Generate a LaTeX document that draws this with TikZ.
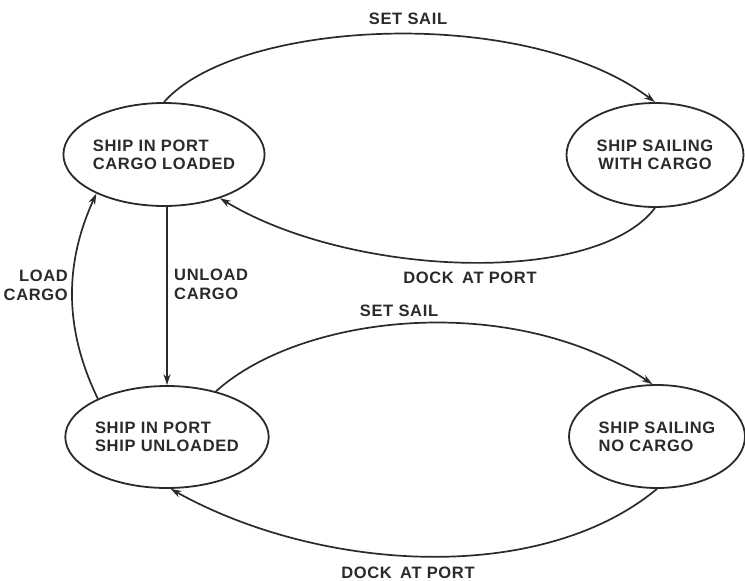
\documentclass[tikz,border=0pt]{standalone}
\usepackage{fontspec}
\newfontfamily\shipfont[LetterSpace=4]{Liberation Sans}
\usetikzlibrary{shapes.geometric,arrows.meta}
\definecolor{inkc}{HTML}{2A2A2A}

\begin{document}
\begin{tikzpicture}[x=1pt, y=-1pt, inkc,
    state/.style={draw, ellipse, line width=1.8pt, inner sep=0pt, align=left,
      font=\shipfont\bfseries\fontsize{16.5}{18}\selectfont},
    trans/.style={line width=1.7pt, -{Stealth[length=11pt,width=7pt]}},
    lbl/.style={inner sep=0pt, font=\shipfont\bfseries\fontsize{16.5}{19}\selectfont}]
    \useasboundingbox (0,0) rectangle (745,581);
    % states
    \node[state, minimum width=178pt, minimum height=103pt] (loaded) at (164,154.5) {SHIP IN PORT\\CARGO LOADED};
    \node[state, align=center, minimum width=177pt, minimum height=104pt] (withcargo) at (655,155) {SHIP SAILING\\WITH CARGO};
    \node[state, minimum width=180pt, minimum height=102pt] (unloaded) at (167,437) {SHIP IN PORT\\SHIP UNLOADED};
    \node[state, minimum width=176pt, minimum height=103pt] (nocargo) at (657,436.5) {SHIP SAILING\\NO CARGO};
    % transitions
    \draw[trans] (loaded.north) .. controls +(73,-83) and +(-130,-98) .. (withcargo.north);
    \draw[trans] (withcargo.south) .. controls +(-60,79) and +(130,79) .. (loaded.-38);
    \draw[trans] (unloaded.north |- loaded.south) -- (unloaded.north);
    \draw[trans] (unloaded.151) .. controls +(-34,-70) and +(-32,70) .. (loaded.210);
    \draw[trans] (unloaded.43) .. controls +(85,-77) and +(-141,-94) .. (nocargo.95);
    \draw[trans] (nocargo.south) .. controls +(-117,97) and +(149,83) .. (unloaded.-86);
    % labels
    \node[lbl] (sail1) at (408,19) {SET SAIL};
    \node[lbl] (dock1) at (470,278) {DOCK\enspace AT PORT};
    \node[lbl, anchor=west, align=left] (unload) at (174,284) {UNLOAD\\CARGO};
    \node[lbl, anchor=east, align=right] (load) at (68,285) {LOAD\\CARGO};
    \node[lbl] (sail2) at (399,311) {SET SAIL};
    \node[lbl] (dock2) at (408,573) {DOCK\enspace AT PORT};
\end{tikzpicture}
\end{document}
